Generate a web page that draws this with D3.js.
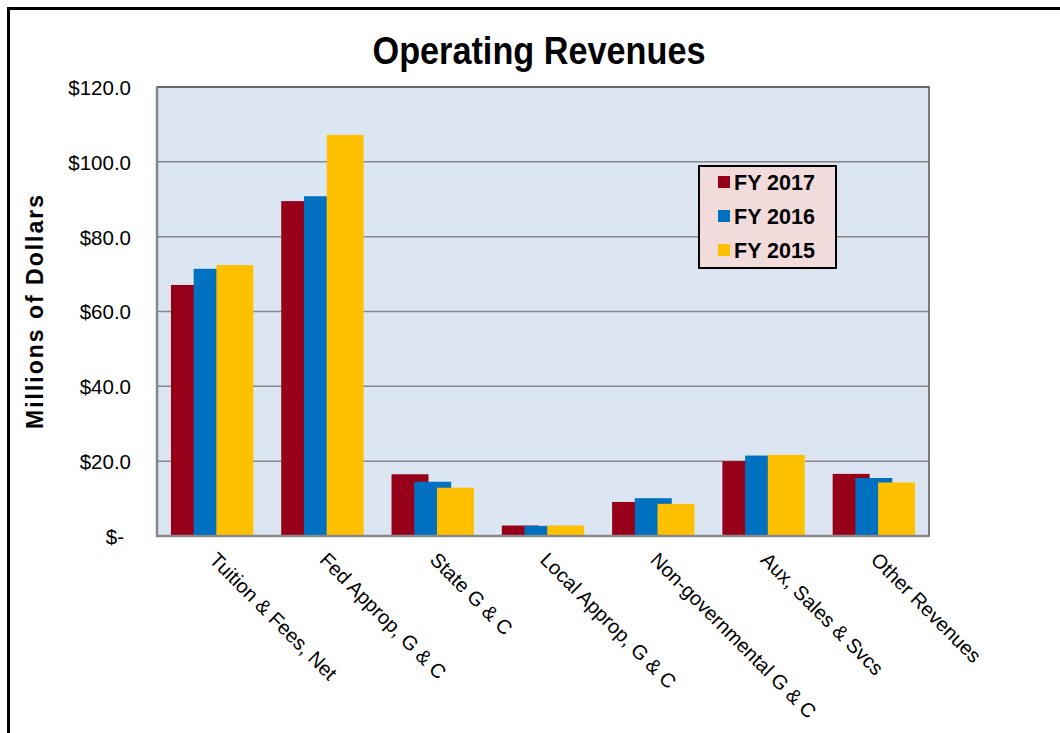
<!DOCTYPE html>
<html>
<head>
<meta charset="utf-8">
<script src="https://cdn.jsdelivr.net/npm/d3@7"></script>
<style>
  body { margin: 0; background: #fff; }
  text { font-family: "Liberation Sans", Arial, sans-serif; }
</style>
</head>
<body>
<svg width="1060" height="733"></svg>
<script>
// operating revenues, grouped bars

var categories = ["Tuition & Fees, Net", "Fed Approp, G & C", "State G & C", "Local Approp, G & C",
  "Non-governmental G & C", "Aux, Sales & Svcs", "Other Revenues"];
var seriesNames = ["FY 2017", "FY 2016", "FY 2015"];
var fy2017 = [67.1, 89.5, 16.5, 2.8, 9.1, 20.0, 16.6];
var fy2016 = [71.4, 90.8, 14.5, 2.7, 10.1, 21.5, 15.5];
var fy2015 = [72.4, 107.2, 12.9, 2.8, 8.6, 21.7, 14.3];
var yTicks = [0, 20, 40, 60, 80, 100, 120];

var colors = ["#970019", "#0070c0", "#ffc000"];
var seriesValues = [fy2017, fy2016, fy2015];

var svg = d3.select("svg");

// outer frame
svg.append("rect")
  .attr("x", 8.5).attr("y", 8.5)
  .attr("width", 1070).attr("height", 760)
  .attr("fill", "none").attr("stroke", "#000").attr("stroke-width", 3);

var plotLeft = 157, plotRight = 929, plotTop = 87, plotBottom = 536;

var x = d3.scaleBand()
  .domain(categories)
  .range([plotLeft, plotRight])
  .padding(0);

var y = d3.scaleLinear()
  .domain([0, 120])
  .range([plotBottom, plotTop]);

var bw = x.bandwidth();
var barW = bw * 0.335;
var s = d3.scalePoint()
  .domain(seriesNames)
  .range([-bw * 0.206, bw * 0.206]);

// plot background
svg.append("rect")
  .attr("x", plotLeft).attr("y", plotTop)
  .attr("width", plotRight - plotLeft).attr("height", plotBottom - plotTop)
  .attr("fill", "#dce6f2");

// gridlines
svg.append("g")
  .selectAll("line")
  .data(yTicks.slice(1))
  .enter().append("line")
  .attr("x1", plotLeft).attr("x2", plotRight)
  .attr("y1", function (d) { return y(d); })
  .attr("y2", function (d) { return y(d); })
  .attr("stroke", "#868686").attr("stroke-width", 1.5);

// bars, later series drawn on top
seriesNames.forEach(function (name, i) {
  svg.append("g")
    .selectAll("rect")
    .data(seriesValues[i])
    .enter().append("rect")
    .attr("x", function (d, j) { return x(categories[j]) + bw / 2 + s(name) - barW / 2; })
    .attr("y", function (d) { return y(d); })
    .attr("width", barW)
    .attr("height", function (d) { return plotBottom - y(d); })
    .attr("fill", colors[i]);
});

// plot frame
svg.append("rect")
  .attr("x", plotLeft).attr("y", plotTop)
  .attr("width", plotRight - plotLeft).attr("height", plotBottom - plotTop)
  .attr("fill", "none").attr("stroke", "#555").attr("stroke-width", 1.5);
svg.append("path")
  .attr("d", "M" + plotLeft + "," + plotTop + "V" + plotBottom + "H" + plotRight)
  .attr("fill", "none").attr("stroke", "#888").attr("stroke-width", 2.5);

// y axis
var yAxis = svg.append("g")
  .attr("transform", "translate(131,0)")
  .call(d3.axisLeft(y).tickValues(yTicks).tickSize(0).tickPadding(0)
    .tickFormat(function (d) { return d === 0 ? "$-" : "$" + d3.format(".1f")(d); }));
yAxis.select(".domain").remove();
yAxis.selectAll("text")
  .attr("font-size", 20.5)
  .attr("font-family", "Liberation Sans, Arial, sans-serif")
  .attr("fill", "#000")
  .attr("dy", "0.36em")
  .attr("x", function (d) { return d === 0 ? -7 : 0; });

// x axis
var xAxis = svg.append("g")
  .attr("transform", "translate(0," + plotBottom + ")")
  .call(d3.axisBottom(x).tickSize(0));
xAxis.select(".domain").remove();
xAxis.selectAll("text")
  .attr("font-size", 20)
  .attr("font-family", "Liberation Sans, Arial, sans-serif")
  .attr("fill", "#000")
  .attr("text-anchor", "start")
  .attr("x", 0).attr("y", 0).attr("dy", 0)
  .attr("transform", "translate(-4,25) rotate(45)");

// title
svg.append("text")
  .attr("x", 539).attr("y", 64)
  .attr("text-anchor", "middle")
  .attr("font-family", "Open Sans, sans-serif")
  .attr("font-weight", "bold")
  .attr("font-size", 38)
  .attr("textLength", 333)
  .attr("lengthAdjust", "spacingAndGlyphs")
  .text("Operating Revenues");

// y axis title
svg.append("text")
  .attr("transform", "translate(43,311) rotate(-90)")
  .attr("text-anchor", "middle")
  .attr("font-weight", "bold")
  .attr("font-size", 23)
  .attr("letter-spacing", 2)
  .text("Millions of Dollars");

// legend
var legend = svg.append("g").attr("transform", "translate(699,166)");
legend.append("rect")
  .attr("width", 137).attr("height", 102)
  .attr("fill", "#f2dcdb").attr("stroke", "#000").attr("stroke-width", 2);
var item = legend.selectAll(".item")
  .data(seriesNames)
  .enter().append("g")
  .attr("class", "item")
  .attr("transform", function (d, i) { return "translate(0," + (16 + i * 34) + ")"; });
item.append("rect")
  .attr("x", 19).attr("y", -6)
  .attr("width", 12).attr("height", 12)
  .attr("fill", function (d, i) { return colors[i]; });
item.append("text")
  .attr("x", 35).attr("dy", "0.36em")
  .attr("font-size", 21.5)
  .attr("font-weight", "bold")
  .text(function (d) { return d; });
</script>
</body>
</html>
